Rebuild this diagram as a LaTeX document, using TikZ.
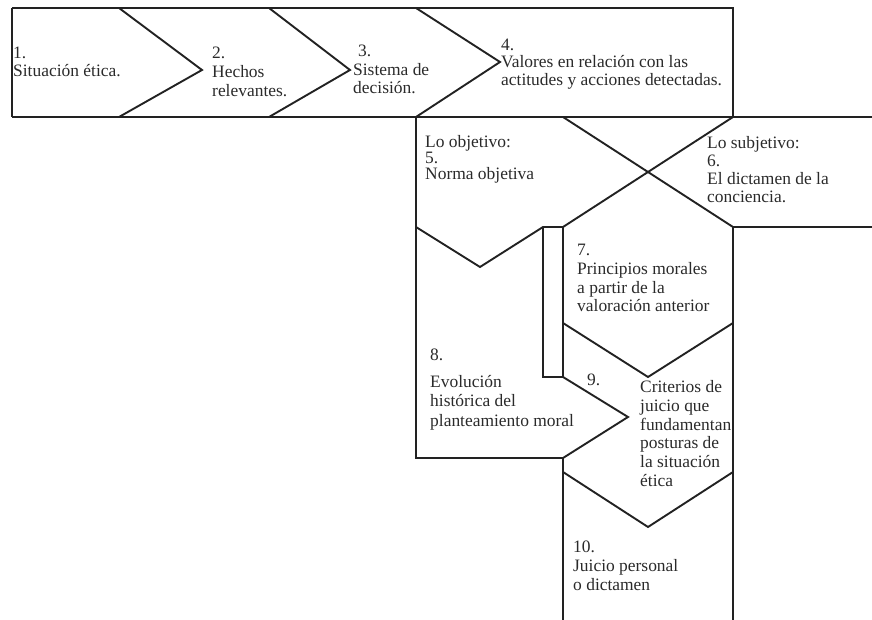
\documentclass[tikz,border=0pt]{standalone}
\usepackage{fontspec}
\setmainfont{Liberation Serif}
\definecolor{ink}{HTML}{222222}
\definecolor{txt}{HTML}{2a2a2a}
\begin{document}
\begin{tikzpicture}[x=1bp,y=-1bp,
  edge/.style={draw=ink, line width=1.9bp, line join=miter},
  lbl/.style={anchor=north west, inner sep=0pt, align=left, text=txt,
    font=\fontsize{17.5}{19}\selectfont}]
\useasboundingbox (0,0) rectangle (872,620);
% top band
\draw[edge] (12,8) -- (733,8) -- (733,117);
\draw[edge] (12,8) -- (12,117);
\draw[edge] (12,117) -- (872,117);
\draw[edge] (119,8) -- (202,70) -- (119,117);
\draw[edge] (269,8) -- (350,70) -- (269,117);
\draw[edge] (416,8) -- (500,62) -- (416,117);
% crossing diagonals
\draw[edge] (563,117) -- (733,227);
\draw[edge] (733,117) -- (563,227);
\draw[edge] (733,227) -- (872,227);
% box 5 / 8
\draw[edge] (416,117) -- (416,458) -- (563,458);
\draw[edge] (416,227) -- (480,267) -- (543,227) -- (563,227);
\draw[edge] (543,227) -- (543,377) -- (563,377);
\draw[edge] (563,227) -- (563,377) -- (628,417) -- (563,458) -- (563,620);
% right column
\draw[edge] (733,227) -- (733,620);
\draw[edge] (563,323) -- (648,377) -- (733,323);
\draw[edge] (563,472) -- (648,527) -- (733,472);
% texts
\node[lbl] (t1) at (13,44.7) {\strut 1.\\[-1pt]Situación ética.};
\node[lbl] (t2) at (212,44.7) {\strut 2.\\Hechos\\relevantes.};
\node[lbl] (t3) at (353,42.7) {\strut\hspace{5pt}3.\\Sistema de\\[-1pt]decisión.};
\node[lbl] (t4) at (501,36.7) {\strut 4.\\[-1.5pt]Valores en relación con las\\[-1.5pt]actitudes y acciones detectadas.};
\node[lbl] (t5) at (425,133.7) {\strut Lo objetivo:\\[-3pt]5.\\[-3pt]Norma objetiva};
\node[lbl] (t6) at (707,134.7) {\strut Lo subjetivo:\\[-1pt]6.\\[-1pt]El dictamen de la\\conciencia.};
\node[lbl] (t7) at (577,241.7) {\strut 7.\\Principios morales\\a partir de la\\valoración anterior};
\node[lbl] (t8) at (430,346.7) {\strut 8.\\[8pt]Evolución\\[1pt]histórica del\\[1pt]planteamiento moral};
\node[lbl] (t9a) at (587,371.7) {\strut 9.};
\node[lbl] (t9) at (640,378.7) {\strut Criterios de\\juicio que\\fundamentan\\posturas de\\la situación\\ética};
\node[lbl] (t10) at (573,538.7) {\strut 10.\\Juicio personal\\o dictamen};
\end{tikzpicture}
\end{document}
